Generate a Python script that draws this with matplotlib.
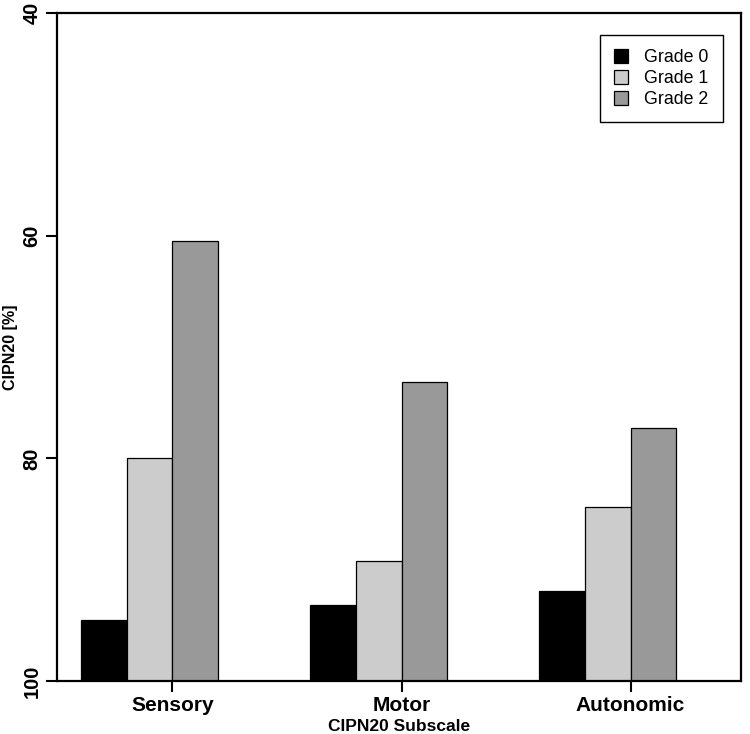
import numpy as np
import matplotlib.pyplot as plt

plt.rcParams['font.family'] = ['Liberation Sans', 'DejaVu Sans']

subscales = ['Sensory', 'Motor', 'Autonomic']
grades = ['Grade 0', 'Grade 1', 'Grade 2']
grade0 = [94.5, 93.2, 91.9]
grade1 = [80.0, 89.2, 84.4]
grade2 = [60.5, 73.1, 77.3]
colors = ['#000000', '#cccccc', '#999999']

fig = plt.figure(figsize=(7.5, 7.34), dpi=100)
ax = fig.add_axes([0.076, 0.0722, 0.912, 0.9101])

base = 100
group_start = np.arange(len(subscales)) * 5
for i, (vals, c, lab) in enumerate(zip([grade0, grade1, grade2], colors, grades)):
    vals = np.array(vals)
    ax.bar(group_start + i + 0.5, vals - base, bottom=base, width=1,
           color=c, edgecolor='black', linewidth=0.9, label=lab)

ax.set_ylim(100, 40)
ax.set_xlim(-0.52, 14.41)
ax.set_yticks([40, 60, 80, 100])
ax.set_yticklabels(['40', '60', '80', '100'], rotation=90, va='center',
                   fontsize=14.5, fontweight='bold')
ax.set_xticks(group_start + 2)
ax.set_xticklabels(subscales, fontsize=15, fontweight='bold')
ax.tick_params(axis='both', direction='out', length=8, width=1.5, pad=3)
for s in ax.spines.values():
    s.set_linewidth(1.6)

ax.set_xlabel('CIPN20 Subscale', fontsize=12.5, fontweight='bold', va='baseline')
ax.xaxis.set_label_coords(0.5, -0.0745)
ax.set_ylabel('CIPN20 [%]', fontsize=11.5, fontweight='bold')
ax.yaxis.set_label_coords(-0.057, 0.5)

leg = ax.legend(loc='upper right', bbox_to_anchor=(0.9737, 0.967),
                borderaxespad=0, fontsize=12.8,
                fancybox=False, edgecolor='black', framealpha=1,
                handlelength=0.8, handleheight=0.8, handletextpad=0.9,
                borderpad=0.8, labelspacing=0.22)
leg.get_frame().set_linewidth(1.0)

plt.savefig('out.png', dpi=100)
